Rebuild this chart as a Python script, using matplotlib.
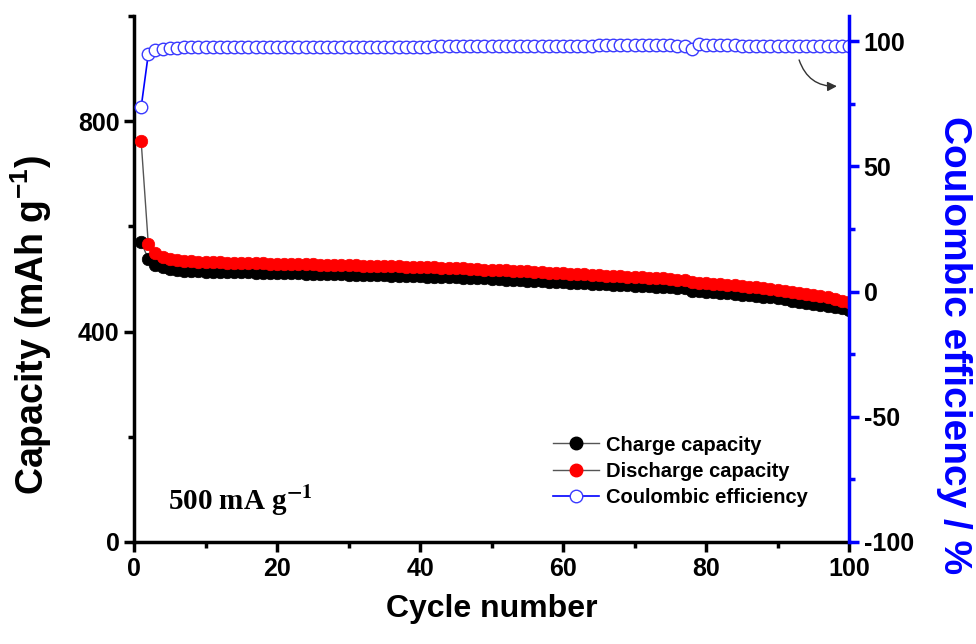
import matplotlib
matplotlib.use("Agg")
import matplotlib.pyplot as plt
from matplotlib.ticker import MultipleLocator
from matplotlib.lines import Line2D

plt.rcParams['font.family'] = ['Liberation Sans', 'DejaVu Sans']
plt.rcParams['font.weight'] = 'bold'
plt.rcParams['axes.unicode_minus'] = False
plt.rcParams['mathtext.fontset'] = 'custom'
plt.rcParams['mathtext.rm'] = 'Liberation Sans:bold'
plt.rcParams['mathtext.bf'] = 'Liberation Sans:bold'

cycles = list(range(1, 101))

discharge = [762, 566, 549, 542, 538, 536, 535, 534, 533, 533,
             532, 532, 531, 531, 531, 530, 530, 530, 529, 529,
             529, 529, 528, 528, 528, 527, 527, 527, 526, 526,
             526, 525, 525, 525, 524, 524, 524, 523, 523, 523,
             522, 522, 521, 521, 520, 520, 519, 519, 518, 518,
             517, 517, 516, 515, 515, 514, 513, 512, 512, 511,
             510, 509, 509, 508, 507, 506, 506, 505, 504, 503,
             503, 502, 501, 501, 500, 499, 499, 494, 493, 492,
             491, 490, 489, 488, 487, 485, 484, 483, 481, 480,
             478, 476, 474, 472, 470, 468, 465, 462, 459, 456]

charge = [570, 538, 527, 522, 519, 517, 516, 515, 515, 514,
          514, 514, 513, 513, 513, 513, 512, 512, 512, 511,
          511, 511, 511, 510, 510, 510, 509, 509, 509, 508,
          508, 508, 507, 507, 507, 506, 506, 506, 505, 505,
          504, 504, 504, 503, 503, 502, 502, 501, 501, 500,
          500, 499, 499, 498, 497, 497, 496, 495, 495, 494,
          493, 493, 492, 491, 491, 490, 489, 489, 488, 487,
          487, 486, 485, 485, 484, 483, 483, 477, 477, 476,
          475, 474, 473, 472, 470, 469, 468, 466, 465, 463,
          461, 459, 457, 455, 453, 451, 449, 446, 444, 441]

efficiency = [73.6, 94.8, 96.3, 96.9, 97.2, 97.4, 97.5, 97.6, 97.6, 97.7,
              97.7, 97.7, 97.8, 97.8, 97.8, 97.8, 97.8, 97.8, 97.8, 97.8,
              97.8, 97.8, 97.8, 97.8, 97.8, 97.8, 97.8, 97.8, 97.8, 97.8,
              97.8, 97.8, 97.8, 97.8, 97.8, 97.8, 97.8, 97.8, 97.8, 97.8,
              97.8, 97.9, 97.9, 97.9, 97.9, 97.9, 97.9, 98.0, 98.0, 98.0,
              98.0, 98.0, 98.0, 98.0, 98.0, 98.1, 98.1, 98.1, 98.1, 98.1,
              98.2, 98.2, 98.2, 98.2, 98.3, 98.3, 98.3, 98.3, 98.3, 98.3,
              98.3, 98.3, 98.3, 98.3, 98.3, 98.2, 98.2, 96.9, 99.0, 98.6,
              98.5, 98.4, 98.3, 98.3, 98.2, 98.2, 98.2, 98.1, 98.1, 98.1,
              98.1, 98.1, 98.1, 98.1, 98.1, 98.1, 98.1, 98.1, 98.1, 98.1]

labels = ['Charge capacity', 'Discharge capacity', 'Coulombic efficiency']

fig = plt.figure(figsize=(9.76, 6.44), dpi=100)
ax = fig.add_axes([0.1373, 0.1584, 0.7326, 0.8168])
ax2 = ax.twinx()

ax.plot(cycles, charge, '-', color='#555555', lw=1.0, marker='o', ms=9,
        mfc='black', mec='black', mew=0.5, zorder=3)
ax.plot(cycles, discharge, '-', color='#555555', lw=1.0, marker='o', ms=9,
        mfc='red', mec='red', mew=0.5, zorder=4)
ax2.plot(cycles, efficiency, '-', color='blue', lw=1.2, marker='o', ms=9,
         mfc='white', mec='#3a3aff', mew=1.0)

ax.set_xlim(0, 100)
ax.set_ylim(0, 1000)
ax2.set_ylim(-100, 110)

ax.xaxis.set_major_locator(MultipleLocator(20))
ax.xaxis.set_minor_locator(MultipleLocator(10))
ax.yaxis.set_major_locator(MultipleLocator(400))
ax.yaxis.set_minor_locator(MultipleLocator(200))
ax2.yaxis.set_major_locator(MultipleLocator(50))
ax2.yaxis.set_minor_locator(MultipleLocator(25))

for a in (ax, ax2):
    a.spines['top'].set_visible(False)
ax.spines['left'].set_linewidth(2.5)
ax.spines['bottom'].set_linewidth(2.5)
ax.spines['right'].set_visible(False)
ax2.spines['left'].set_visible(False)
ax2.spines['bottom'].set_visible(False)
ax2.spines['right'].set_linewidth(2.5)
ax2.spines['right'].set_color('blue')

ax.tick_params(axis='both', which='major', direction='out', length=7, width=2.5,
               labelsize=18, color='black')
ax.tick_params(axis='both', which='minor', direction='out', length=4, width=2.5,
               color='black')
ax2.tick_params(axis='y', which='major', direction='out', length=7, width=2.5,
                labelsize=18, color='blue', labelcolor='black')
ax2.tick_params(axis='y', which='minor', direction='out', length=4, width=2.5,
                color='blue')
for lab in ax.get_xticklabels() + ax.get_yticklabels() + ax2.get_yticklabels():
    lab.set_fontweight('bold')

ax.set_xlabel('Cycle number', fontsize=23, fontweight='bold', labelpad=10)
ax.set_ylabel(r'Capacity (mAh g$^{-1}$)', fontsize=27, fontweight='bold')
ax.yaxis.set_label_coords(-0.112, 0.4125)
ax2.set_ylabel('Coulombic efficiency / %', fontsize=28, fontweight='bold',
               color='blue', rotation=270)
ax2.yaxis.set_label_coords(1.172, 0.3745)

ax.text(0.047, 0.061, r'500 mA g$^{\mathbf{-1}}$', transform=ax.transAxes,
        fontsize=21, fontweight='bold', family='Liberation Serif',
        math_fontfamily='stix')

ax2.annotate('', xy=(98.7, 82.0), xytext=(92.9, 93.5),
             arrowprops=dict(arrowstyle='-|>', color='#333333', lw=1.0,
                             connectionstyle='arc3,rad=0.4',
                             mutation_scale=14))

handles = [
    Line2D([], [], color='#555555', lw=1.0, marker='o', ms=9, mfc='black', mec='black'),
    Line2D([], [], color='#555555', lw=1.0, marker='o', ms=9, mfc='red', mec='red'),
    Line2D([], [], color='blue', lw=1.2, marker='o', ms=9, mfc='white', mec='#3a3aff'),
]
ax2.legend(handles, labels, loc='upper left', bbox_to_anchor=(0.5716, 0.2215),
           frameon=False, prop={'family': 'Liberation Sans', 'weight': 'bold', 'size': 14.5},
           handlelength=2.3, handletextpad=0.35, labelspacing=0.36, borderpad=0)

fig.savefig('out.png', dpi=100)
